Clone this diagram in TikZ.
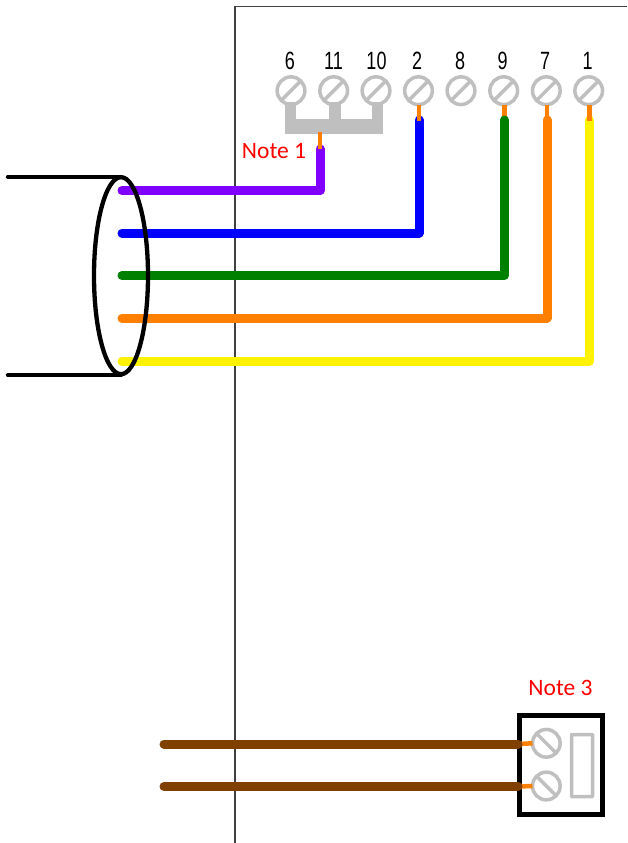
\documentclass[tikz,border=0pt]{standalone}
\usepackage{fontspec}
\usetikzlibrary{shapes.geometric}
\setmainfont{Carlito}
\newfontfamily\numfont{Liberation Sans}
\definecolor{screwgray}{HTML}{BFBFBF}
\definecolor{wpurple}{HTML}{8000FF}
\definecolor{wgreen}{HTML}{008000}
\definecolor{worange}{HTML}{FF8000}
\definecolor{wbrown}{HTML}{804000}
\definecolor{framegray}{HTML}{404040}
\tikzset{
  screw/.style={circle,draw=screwgray,line width=3.5pt,minimum size=27.7pt,inner sep=0pt,outer sep=0pt},
  slot/.style={draw=screwgray,line width=3.5pt},
  bus/.style={fill=screwgray,draw=none},
  stub/.style={draw=worange,line width=4.5pt},
  wire/.style={line width=9pt,line cap=round,line join=round},
  cable/.style={draw=black,line width=4.3pt,line cap=round},
  termlabel/.style={inner sep=0pt,font=\numfont\fontsize{25}{25}\selectfont},
  notelabel/.style={inner sep=0pt,text=red,font=\fontsize{23.5}{24}\selectfont}
}
\begin{document}
\begin{tikzpicture}[x=1pt,y=-1pt]
\useasboundingbox (0,0) rectangle (627,843);
% enclosure
\coordinate (fbl) at (235,843);
\coordinate (ftl) at (235,6.3);
\coordinate (ftr) at (627,6.3);
\draw[framegray,line width=1.4pt] (fbl) -- (ftl) -- (ftr);
% terminals
\foreach \nm/\x in {6/291,11/333.7,10/376,2/418.5,8/461,9/503.7,7/546.3,1/588.7}{
  \node[screw] (s\nm) at (\x,90.7) {};
  \draw[slot] (s\nm.225) -- (s\nm.45);
}
\foreach \nm/\x in {6/290,11/333.5,10/376.5,2/417,8/460,9/502.5,7/545,1/587.5}{
  \node[termlabel] (t\nm) at (\x,60.5) {\scalebox{.72}[1]{\nm}};
}
% jumper bus
\fill[bus] (285,134) rectangle (383,119);
\fill[bus] (285,119) rectangle (296.3,102);
\fill[bus] (329,119) rectangle (340.5,102);
\fill[bus] (372,119) rectangle (383,102);
% wire end points
\coordinate (busp) at (320,132);
\coordinate (pe) at (320,149);
\coordinate (pc) at (320,190.5);
\coordinate (ps) at (122,190.5);
\coordinate (be) at (419,120);
\coordinate (bc) at (419,233);
\coordinate (bs) at (122,233);
\coordinate (ge) at (504.3,120);
\coordinate (gc) at (504.3,275.5);
\coordinate (gs) at (122,275.5);
\coordinate (oe) at (547,120);
\coordinate (oc) at (547,318);
\coordinate (os) at (122,318);
\coordinate (ye) at (589.5,120);
\coordinate (yc) at (589.5,361);
\coordinate (ys) at (122,361);
\coordinate (st2) at (419,121);
\coordinate (st9) at (504.3,118);
\coordinate (st7) at (547,118);
\coordinate (st1) at (589.5,121);
% stubs hidden by their wires
\draw[stub] (s9.south -| st9) -- (st9);
\draw[stub] (s7.south -| st7) -- (st7);
\draw[wire,wpurple] (ps) -- (pc) -- (pe);
\draw[wire,blue] (bs) -- (bc) -- (be);
\draw[wire,wgreen] (gs) -- (gc) -- (ge);
\draw[wire,worange] (os) -- (oc) -- (oe);
\draw[wire,yellow] (ys) -- (yc) -- (ye);
% stubs drawn over their wires
\draw[stub] (busp) -- (pe);
\draw[stub] (s2.south -| st2) -- (st2);
\draw[stub] (s1.south -| st1) -- (st1);
% cable
\node[draw=black,line width=4.3pt,ellipse,minimum width=54pt,minimum height=197pt,inner sep=0pt,outer sep=0pt] (shield) at (121,275.7) {};
\coordinate (cta) at (8,176.8);
\coordinate (cba) at (8,375.2);
\draw[cable] (cta) -- (cta -| shield.north);
\draw[cable] (cba) -- (cba -| shield.south);
% notes
\node[notelabel] (n1) at (274,151) {Note 1};
\node[notelabel] (n3) at (560.5,688) {Note 3};
% bottom device
\node[draw=black,line width=4.6pt,minimum width=83pt,minimum height=98.5pt,inner sep=0pt,outer sep=0pt] (dev) at (561.2,765) {};
\node[screw] (b1) at (546.3,743.3) {};
\node[screw] (b2) at (546.3,786) {};
\draw[slot] (b1.135) -- (b1.315);
\draw[slot] (b2.135) -- (b2.315);
\node[draw=screwgray,line width=3.5pt,rounded corners=0.5pt,minimum width=21pt,minimum height=62pt,inner sep=0pt,outer sep=0pt] (fuse) at (582,765.5) {};
\coordinate (w1s) at (164,744);
\coordinate (w1e) at (518,744);
\coordinate (w2s) at (164,786.5);
\coordinate (w2e) at (518,786.5);
\draw[stub] (w1e) -- (b1.west);
\draw[stub] (w2e) -- (b2.west);
\draw[wire,wbrown] (w1s) -- (w1e);
\draw[wire,wbrown] (w2s) -- (w2e);
\end{tikzpicture}
\end{document}
